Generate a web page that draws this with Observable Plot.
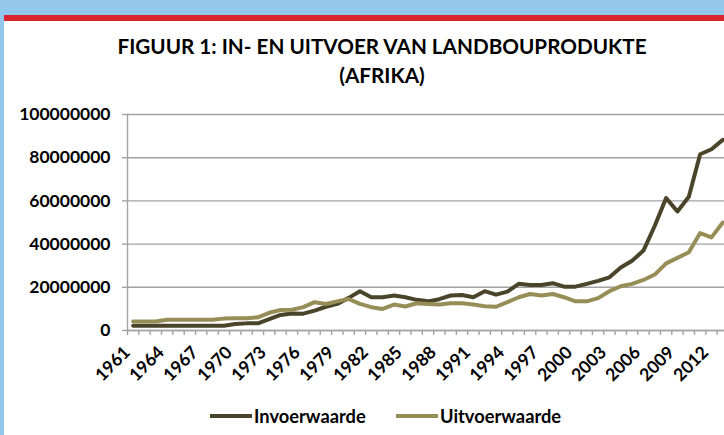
<!DOCTYPE html>
<html><head><meta charset="utf-8">
<script src="https://cdn.jsdelivr.net/npm/d3@7"></script>
<script src="https://cdn.jsdelivr.net/npm/@observablehq/plot@0.6"></script>
<style>
html,body{margin:0;padding:0;width:724px;height:435px;overflow:hidden;background:#fff;}
#wrap{position:relative;width:724px;height:435px;background:#fff;overflow:hidden;}
#blueTop{position:absolute;left:0;top:0;width:724px;height:15px;background:#93C8EC;z-index:2}
#blueLeft{position:absolute;left:0;top:0;width:4px;height:435px;background:#93C8EC;z-index:2}
#red{position:absolute;left:4px;top:15px;width:720px;height:6px;background:#D9262E;z-index:2}
#title{position:absolute;left:0;width:764px;top:32px;text-align:center;font-family:Lato,sans-serif;font-weight:bold;font-size:20.7px;line-height:29px;color:#000;z-index:2}
#chart{position:absolute;left:0;top:0;z-index:1}
#legend{position:absolute;left:0;top:404px;width:724px;height:24px;z-index:2;font-family:Lato,sans-serif;font-weight:bold;font-size:18.3px;color:#000}
.item{position:absolute;top:0;display:flex;align-items:center;height:24px;white-space:nowrap}
.sw{display:inline-block;width:42px;height:4px;margin-right:2px}
</style></head>
<body>
<div id="wrap">
  <div id="blueTop"></div><div id="blueLeft"></div><div id="red"></div>
  <div id="title">FIGUUR 1: IN- EN UITVOER VAN LANDBOUPRODUKTE<br>(AFRIKA)</div>
  <div id="chart"></div>
  <div id="legend"></div>
</div>
<script>
const years = d3.range(1961, 2014);
const invoerwaarde = [
  2200000,2200000,2200000,2200000,2200000,2200000,2200000,2200000,2200000,3000000,
  3300000,3300000,5300000,7200000,7900000,7800000,9200000,11000000,12300000,15100000,
  18200000,15400000,15400000,16200000,15400000,14200000,13500000,14500000,16200000,16400000,
  15400000,18200000,16600000,18000000,21600000,21100000,21100000,21900000,20300000,20300000,
  21600000,23000000,24600000,29200000,32300000,37000000,48500000,61300000,55100000,61900000,
  81600000,83900000,88300000
];
const uitvoerwaarde = [
  4200000,4200000,4200000,5000000,5000000,5000000,5000000,5000000,5500000,5700000,
  5700000,6100000,8200000,9500000,9600000,10800000,13100000,12300000,13500000,14600000,
  12300000,10800000,10000000,12000000,11100000,12600000,12300000,12000000,12600000,12600000,
  12000000,11200000,11000000,13100000,15400000,16900000,16200000,16900000,15400000,13500000,
  13500000,15000000,18200000,20500000,21600000,23400000,25900000,31100000,33600000,36200000,
  45100000,43100000,50000000
];
const seriesNames = ["Invoerwaarde", "Uitvoerwaarde"];
const seriesColors = ["#4A452A", "#978D57"];
const xTickYears = d3.range(1961, 2013, 3);
const yTicks = [0, 20000000, 40000000, 60000000, 80000000, 100000000];
const categoryEdges = d3.range(1960.5, 2014, 1);

const data = [];
years.forEach((yr, i) => data.push({year: yr, value: invoerwaarde[i], series: seriesNames[0]}));
years.forEach((yr, i) => data.push({year: yr, value: uitvoerwaarde[i], series: seriesNames[1]}));

const gridColor = "#A2A2A2";
const chart = Plot.plot({
  width: 724, height: 435,
  marginTop: 114, marginBottom: 105, marginLeft: 127, marginRight: 0,
  x: {type: "linear", domain: [1960.5, 2013.5], range: [127, 728], label: null},
  y: {domain: [0, 100000000], label: null},
  color: {domain: seriesNames, range: seriesColors},
  style: {background: "transparent", overflow: "visible", fontFamily: "Lato, sans-serif", fontWeight: "bold", fontSize: "17px", color: "#000"},
  marks: [
    Plot.gridY(yTicks, {stroke: gridColor, strokeOpacity: 1, strokeWidth: 1.4}),
    Plot.axisY(yTicks, {label: null, tickSize: 5, tickPadding: 12, stroke: gridColor, strokeWidth: 1.4, tickFormat: d => String(d), fill: "#000", fontSize: 17.5, fontWeight: "bold"}),
    Plot.frame({anchor: "left", stroke: gridColor, strokeWidth: 1.4}),
    Plot.axisX(categoryEdges, {label: null, tickSize: 5, stroke: gridColor, strokeWidth: 1.4, tickFormat: () => ""}),
    Plot.axisX(xTickYears, {label: null, tickSize: 0, tickPadding: 13, dx: -6, dy: 6, tickRotate: -45, tickFormat: d => String(d), fill: "#000", fontSize: 17.5, fontWeight: "bold"}),
    Plot.ruleY([0], {stroke: gridColor, strokeWidth: 1.4}),
    Plot.line(data, {x: "year", y: "value", z: "series", stroke: "series", strokeWidth: 4, strokeLinejoin: "round"})
  ]
});
document.getElementById("chart").appendChild(chart);

const legend = document.getElementById("legend");
const legendLeft = [210, 396];
seriesNames.forEach((name, i) => {
  const it = document.createElement("div");
  it.className = "item";
  it.style.left = legendLeft[i] + "px";
  const sw = document.createElement("span");
  sw.className = "sw";
  sw.style.background = seriesColors[i];
  it.appendChild(sw);
  it.appendChild(document.createTextNode(name));
  legend.appendChild(it);
});
</script>
</body></html>
